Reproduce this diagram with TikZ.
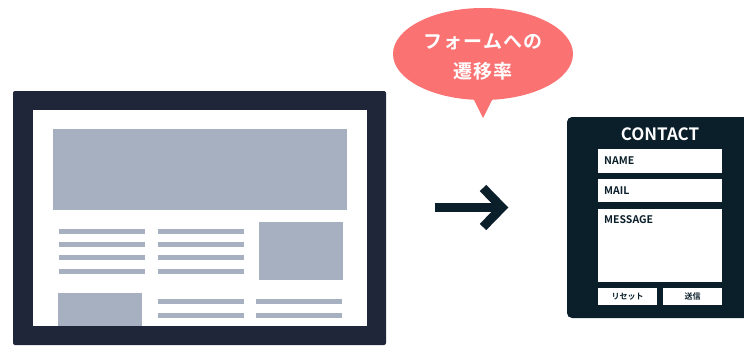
\documentclass[tikz,border=0pt]{standalone}
\usepackage{fontspec}
\usetikzlibrary{shapes.geometric}
\newfontfamily\jpb{Noto Sans CJK JP Bold}
\newfontfamily\jpbs[LetterSpace=6]{Noto Sans CJK JP Bold}
\definecolor{frame}{HTML}{1F263A}
\definecolor{block}{HTML}{A7B0C0}
\definecolor{navy}{HTML}{0B1F2B}
\definecolor{bubble}{HTML}{FA7272}
\tikzset{
  blk/.style={fill=block, draw=none},
  fieldbox/.style={fill=white, draw=none},
  lbl/.style={font=\jpb\fontsize{10.5}{12}\selectfont, text=navy, anchor=west, inner sep=0pt},
  btnlbl/.style={font=\jpb\fontsize{8}{10}\selectfont, text=navy, inner sep=0pt},
  bubtxt/.style={font=\jpbs\fontsize{19}{22}\selectfont, text=white, inner sep=0pt},
}
\begin{document}
\begin{tikzpicture}[x=1pt,y=-1pt]
\useasboundingbox (0,0) rectangle (744,346);
% monitor
\fill[frame, rounded corners=2pt] (13,91) rectangle (386,345);
\fill[white] (33,110) rectangle (367,326);
\fill[blk] (53,129) rectangle (347,210);
\foreach \y in {229,242,255,269}{
  \fill[blk] (59,\y) rectangle (145,\y+5);
  \fill[blk] (158,\y) rectangle (244,\y+5);
}
\fill[blk] (259,222) rectangle (343,280);
\fill[blk] (58,293) rectangle (142,326);
\foreach \y in {299,313}{
  \fill[blk] (158,\y) rectangle (244,\y+5);
  \fill[blk] (256,\y) rectangle (342,\y+5);
}
% arrow
\coordinate (as) at (435,207.5);
\coordinate (ae) at (502,207.5);
\draw[navy, line width=9pt] (as) -- (ae);
\draw[navy, line width=9pt, line join=miter] (483,188) -- (ae) -- (483,227);
% bubble
\fill[bubble] (470,92) -- (483,118) -- (496,92) -- cycle;
\node[ellipse, fill=bubble, minimum width=180pt, minimum height=92pt, inner sep=0pt] (bub) at (483,54) {};
\node[bubtxt] (t1) at (483,42) {フォームへの};
\node[bubtxt] (t2) at (483,71) {遷移率};
% contact form
\fill[navy, rounded corners=5pt] (567,117) rectangle (760,318);
\node[font=\jpb\fontsize{17}{20}\selectfont, text=white, inner sep=0pt] (ct) at (660,134) {CONTACT};
\fill[fieldbox] (598,149) rectangle (722,173);
\node[lbl] (nm) at (604,161) {NAME};
\fill[fieldbox] (598,179) rectangle (722,202);
\node[lbl] (ml) at (604,190.5) {MAIL};
\fill[fieldbox] (598,209) rectangle (722,282);
\node[lbl] (ms) at (604,220) {MESSAGE};
\fill[fieldbox] (598,288) rectangle (657,305);
\node[btnlbl] (rs) at (627.5,296.5) {リセット};
\fill[fieldbox] (663,288) rectangle (722,305);
\node[btnlbl] (sd) at (692.5,296.5) {送信};
\end{tikzpicture}
\end{document}
